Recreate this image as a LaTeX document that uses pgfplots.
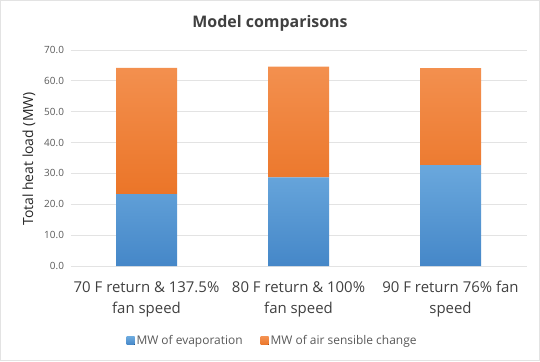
\documentclass[border=0pt]{standalone}
\usepackage{pgfplots}
\pgfplotsset{compat=1.18}
\usepackage{fontspec}
\setmainfont{Open Sans}
\definecolor{bluetop}{HTML}{6AA8DD}
\definecolor{bluebot}{HTML}{4587C8}
\definecolor{orgtop}{HTML}{F3904F}
\definecolor{orgbot}{HTML}{EB7528}
\definecolor{gridc}{HTML}{E3E3E3}
\definecolor{tickc}{HTML}{595959}
\definecolor{titlec}{HTML}{404040}
\begin{document}
\begin{tikzpicture}[x=1bp,y=1bp]
\useasboundingbox (0,0) rectangle (540,361);
\draw[draw=gridc,line width=0.8bp] (0.5,0.5) rectangle (539.5,360.5);
\node[font=\bfseries\fontsize{16}{19}\selectfont, text=titlec] at (270,338) {Model comparisons};
\node[rotate=90, font=\fontsize{14}{16}\selectfont, text=black!85] at (29,202) {Total heat load (MW)};
\begin{axis}[
  at={(70.5bp,95bp)}, anchor=south west,
  scale only axis, width=456bp, height=216bp,
  ybar stacked, bar width=61bp,
  xmin=-0.5, xmax=2.5, ymin=0, ymax=70,
  xtick={0,1,2},
  xticklabels={{70 F return \& 137.5\%\\fan speed},{80 F return \& 100\%\\fan speed},{90 F return 76\% fan\\speed}},
  xticklabel style={align=center, font=\fontsize{15}{21}\selectfont, text=titlec, yshift=-12bp},
  ytick={0,10,...,70},
  yticklabel style={font=\fontsize{10}{12}\selectfont, text=tickc, xshift=-3bp},
  /pgf/number format/.cd, fixed, fixed zerofill, precision=1, assume math mode=true, /pgfplots/.cd,
  ymajorgrids, grid style={gridc, line width=0.8bp},
  axis line style={draw=none},
  major tick length=0pt,
  legend style={at={(0.443,-0.347)}, anchor=center, draw=none, legend columns=2, font=\fontsize{12}{14}\selectfont, text=tickc, /tikz/every even column/.append style={column sep=16bp}},
  legend image code/.code={\fill[#1] (0bp,-4bp) rectangle (8bp,4bp);},
]
\addplot[draw=none, top color=bluetop, bottom color=bluebot] coordinates {(0,23.3) (1,28.7) (2,32.7)};
\addplot[draw=none, top color=orgtop, bottom color=orgbot] coordinates {(0,40.9) (1,35.9) (2,31.4)};
\legend{MW of evaporation, MW of air sensible change}
\end{axis}
\end{tikzpicture}
\end{document}
